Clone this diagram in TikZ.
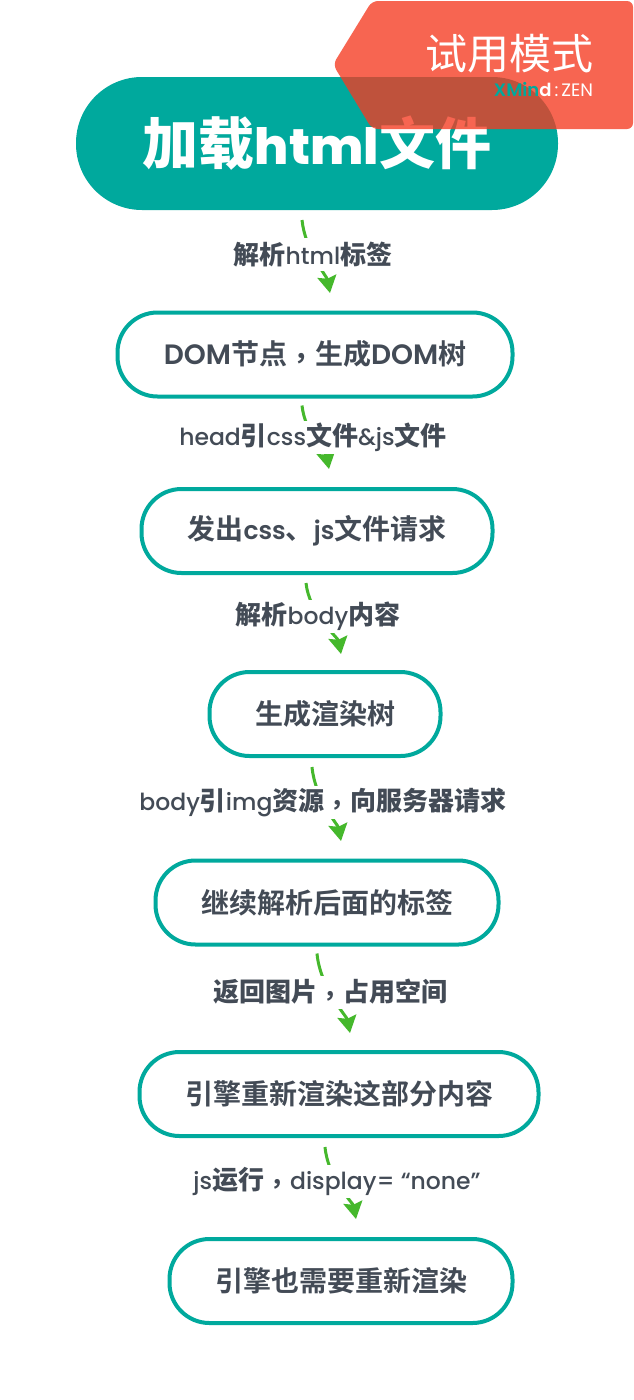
\documentclass[tikz,border=0pt]{standalone}
\usepackage{fontspec}
\usetikzlibrary{arrows.meta}
\setmainfont{Poppins}[BoldFont=Poppins SemiBold]
\newfontfamily\latmed{Poppins Medium}
\newfontfamily\latblk{Poppins ExtraBold}
\newfontfamily\cjk{Noto Sans CJK SC}[BoldFont=* Bold]
\newfontfamily\cjkblk{Noto Sans CJK SC Black}
\newfontfamily\cjktc{Noto Sans CJK TC}[BoldFont=* Bold]
\newcommand\Z[1]{{\cjkblk #1}}
\newcommand\ZL[1]{{\fontsize{26}{30}\selectfont\cjkblk #1}}
\newcommand\ZH[1]{{\fontsize{56}{66}\selectfont\cjkblk #1}}
\newcommand\Q{{\raisebox{-.14em}{\cjktc\bfseries ，}}}
\newcommand\QL{{\fontsize{26}{30}\selectfont\raisebox{-.14em}{\cjktc\bfseries ，}}}
\newcommand\SL[1]{{\fontsize{25}{30}\selectfont #1}}
\definecolor{teal}{HTML}{00A99D}
\definecolor{ink}{HTML}{434B56}
\definecolor{arrowgreen}{HTML}{45B82C}
\definecolor{wm}{HTML}{F63A21}
\tikzset{
  every node/.style={inner sep=0pt,outer sep=0pt},
  pill/.style={draw=teal,line width=4pt,fill=white,rounded corners=40pt,text=ink,font=\fontsize{28}{32}\selectfont\bfseries,minimum height=84pt},
  hero/.style={fill=teal,rounded corners=66pt,text=white,font=\fontsize{50}{66}\selectfont\latblk,minimum width=482pt,minimum height=133pt},
  lbl/.style={fill=white,text=ink,font=\fontsize{23.5}{30}\selectfont\latmed,minimum height=33pt},
  conn/.style={draw=arrowgreen,line width=3pt,-{Stealth[length=17pt,width=19pt,inset=2.5pt]}}
}
\begin{document}
\begin{tikzpicture}[x=1pt,y=-1pt]
\useasboundingbox (0,0) rectangle (634,1400);
\fill[white] (0,0) rectangle (634,1400);
\node[hero] (n1) at (317,143.5) {\ZH{加载}html\ZH{文件}};
\node[pill,minimum width=395pt] (n2) at (315,354.5) {DOM\Z{节点}\Q\Z{生成}DOM\Z{树}};
\node[pill,minimum width=351pt] (n3) at (317,531) {\Z{发出}\SL{css}\Z{、}\SL{js}\Z{文件请求}};
\node[pill,minimum width=231pt] (n4) at (325,714) {\Z{生成渲染树}};
\node[pill,minimum width=343pt] (n5) at (327,902.5) {\Z{继续解析后面的标签}};
\node[pill,minimum width=399pt] (n6) at (339,1094) {\Z{引擎重新渲染这部分内容}};
\node[pill,minimum width=343pt] (n7) at (341,1281) {\Z{引擎也需要重新渲染}};

\draw[conn] ([shift={(-15,10)}]n1.south) .. controls +(3,30) and +(-3,-16) .. ([shift={(15,-19.5)}]n2.north);
\draw[conn] ([shift={(-13,9)}]n2.south) .. controls +(3,28) and +(-3,-16) .. ([shift={(12,-20)}]n3.north);
\draw[conn] ([shift={(-11,10)}]n3.south) .. controls +(3,30) and +(-3,-16) .. ([shift={(16,-18)}]n4.north);
\draw[conn] ([shift={(-13,11)}]n4.south) .. controls +(3,32) and +(-3,-16) .. ([shift={(14,-19.5)}]n5.north);
\draw[conn] ([shift={(-10,9)}]n5.south) .. controls +(3,34) and +(-3,-16) .. ([shift={(11,-19)}]n6.north);
\draw[conn] ([shift={(-14,11)}]n6.south) .. controls +(3,32) and +(-3,-16) .. ([shift={(15,-20)}]n7.north);

\node[lbl] (l1) at (313,254.5) {\ZL{解析}html\ZL{标签}};
\node[lbl] (l2) at (313,437.5) {head\ZL{引}css\ZL{文件}\&js\ZL{文件}};
\node[lbl] (l3) at (318,616.5) {\ZL{解析}body\ZL{内容}};
\node[lbl] (l4) at (323,802.5) {body\ZL{引}img\ZL{资源}\QL\ZL{向服务器请求}};
\node[lbl] (l5) at (330,992.5) {\ZL{返回图片}\QL\ZL{占用空间}};
\node[lbl] (l6) at (337,1181.5) {js\ZL{运行}\QL display= “none”};

\fill[wm,fill opacity=.78,rounded corners=6pt] (372,1) -- (633,1) -- (633,129) -- (372,129) -- (333,64.5) -- cycle;
\node[anchor=east,text=white,font=\fontsize{42}{48}\selectfont\cjk] (wmtext) at (593,54) {试用模式};
\node[anchor=east,font=\fontsize{18}{20}\selectfont] (wmlogo) at (593,90) {\textcolor{teal}{\textbf{XMin}}\textcolor{white}{\textbf{d}\,:\,ZEN}};
\end{tikzpicture}
\end{document}
